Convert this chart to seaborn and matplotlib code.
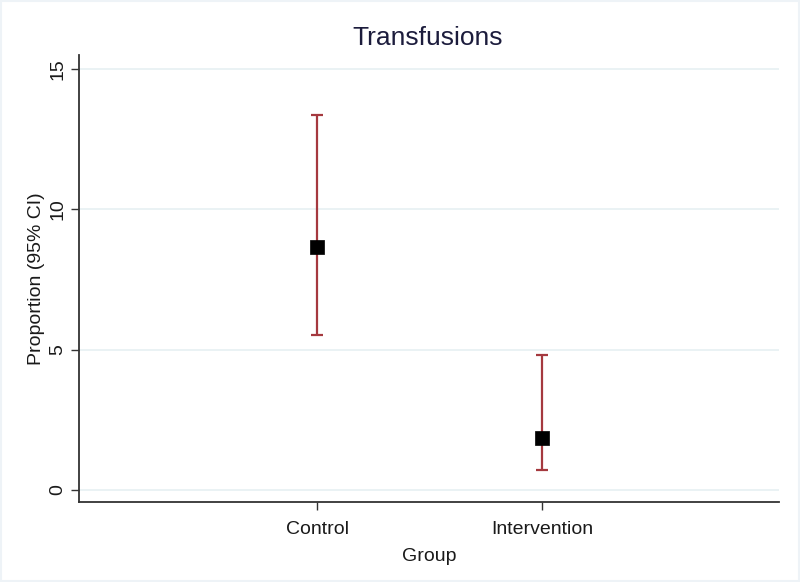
import matplotlib
matplotlib.use("Agg")
import matplotlib.pyplot as plt
import seaborn as sns
import pandas as pd
from matplotlib.patches import Rectangle

groups = ["Control", "Intervention"]
proportion = [8.67, 1.84]
ci_low = [5.51, 0.70]
ci_high = [13.36, 4.80]
y_ticks = [0, 5, 10, 15]

df = pd.DataFrame({"Group": groups, "Proportion": proportion,
                   "lo": ci_low, "hi": ci_high})

sns.set_theme(style="white")
plt.rcParams["font.family"] = ["Liberation Sans", "DejaVu Sans"]

fig = plt.figure(figsize=(8.0, 5.82), dpi=100)
fig.patch.set_facecolor("white")
fig.patches.append(Rectangle((0.001, 0.002), 0.998, 0.996, transform=fig.transFigure,
                             fill=False, edgecolor="#eef3f7", linewidth=1.5, zorder=-1))
ax = fig.add_axes([0.09875, 0.1375, 0.875, 0.768])

xpos = list(range(len(groups)))
for y in y_ticks:
    ax.axhline(y, color="#e6f0f2", linewidth=1.2, zorder=0)

err_lo = [p - l for p, l in zip(proportion, ci_low)]
err_hi = [h - p for p, h in zip(proportion, ci_high)]
ax.errorbar(xpos, proportion, yerr=[err_lo, err_hi], fmt="none",
            ecolor="#a5393f", elinewidth=1.6, capsize=4.2, capthick=1.6, zorder=2)
sns.scatterplot(data=df, x=xpos, y="Proportion", marker="s", s=110,
                color="black", edgecolor="black", linewidth=0.5, ax=ax, zorder=3)

ax.set_xlim(-1.058, 2.053)
ax.set_ylim(-0.43, 15.5)
ax.set_xticks(xpos)
ax.set_xticklabels(groups)
ax.set_yticks(y_ticks)
ax.set_yticklabels([str(v) for v in y_ticks], rotation=90, va="center")

for s in ["top", "right"]:
    ax.spines[s].set_visible(False)
for s in ["left", "bottom"]:
    ax.spines[s].set_color("#333333")
    ax.spines[s].set_linewidth(1.3)

ax.tick_params(axis="both", which="both", length=6, width=1.0, color="#333333",
               labelsize=14, labelcolor="#1a1a1a", direction="out")
ax.tick_params(axis="x", bottom=True, pad=8)
ax.tick_params(axis="y", left=True, pad=3)

ax.set_xlabel("Group", fontsize=14, color="#1a1a1a", labelpad=7)
ax.set_ylabel("Proportion (95% CI)", fontsize=14, color="#1a1a1a", labelpad=3)
fig.suptitle("Transfusions", x=0.535, y=0.955, fontsize=19, color="#1c1c3c")

fig.savefig("out.png", dpi=100)
